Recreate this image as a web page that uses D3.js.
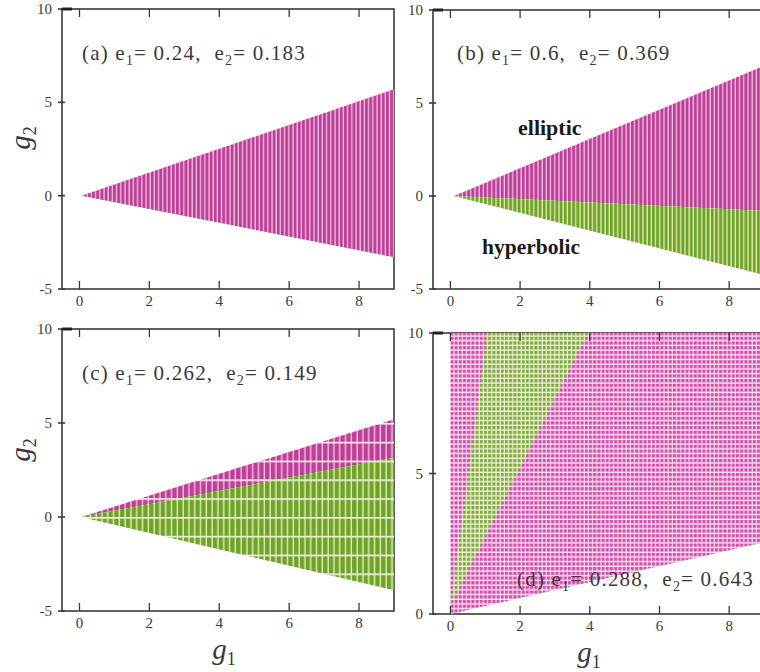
<!DOCTYPE html>
<html>
<head>
<meta charset="utf-8">
<script src="https://cdn.jsdelivr.net/npm/d3@7"></script>
<style>
  body { margin: 0; background: #fff; }
  text { font-family: "Liberation Serif", "DejaVu Serif", serif; fill: #3a3a3a; }
</style>
</head>
<body>
<svg width="760" height="672"></svg>
<script>
// tick values
var xTicks = [0, 2, 4, 6, 8];
var yTicksFull = [-5, 0, 5, 10];
var yTicksD = [0, 5, 10];

// region outlines, [g1, g2]
var ellipticA = [[0.05, 0], [9, 5.7], [9, -3.3]];
var ellipticB = [[0.1, 0], [9, 7.0], [9, -0.8]];
var hyperbolicB = [[0.1, 0], [9, -0.8], [9, -4.25]];
var ellipticC = [[0.05, 0], [9, 5.2], [9, 3.15]];
var hyperbolicC = [[0.05, 0], [9, 3.15], [9, -3.9]];
var ellipticD = [[0, 0], [0, 10], [9, 10], [9, 2.55]];
var hyperbolicD = [[0, 0.3], [1.05, 10], [3.95, 10]];

var panelNames = ["a", "b", "c", "d"];
var e1 = ["0.24", "0.6", "0.262", "0.288"];
var e2 = ["0.183", "0.369", "0.149", "0.643"];

var svg = d3.select("svg");
var defs = svg.append("defs");

// panel boxes
var layout = [
  { x0: 62, x1: 394, y0: 289, y1: 9, ymin: -5, style: "v",
    regions: [{ pts: ellipticA, c: "m" }], lab: [82, 60] },
  { x0: 433, x1: 764, y0: 289, y1: 10, ymin: -5, style: "v",
    regions: [{ pts: ellipticB, c: "m" }, { pts: hyperbolicB, c: "g" }], lab: [457, 60] },
  { x0: 62, x1: 394, y0: 611, y1: 329, ymin: -5, style: "h",
    regions: [{ pts: ellipticC, c: "m" }, { pts: hyperbolicC, c: "g" }], lab: [82, 380] },
  { x0: 433, x1: 764, y0: 614, y1: 333, ymin: 0, style: "grid",
    regions: [{ pts: ellipticD, c: "m" }, { pts: hyperbolicD, c: "g" }], lab: [517, 586] }
];

var colors = {
  m: { dark: "#bd3f96", light: "#efc2e6", grid: "#d650ad", gridLight: "#f4c8ea" },
  g: { dark: "#6fa32c", light: "#e2f0ae", grid: "#7fae3e", gridLight: "#e8f4b8" }
};

function makePattern(id, c, style, x, y, unit) {
  var p = defs.append("pattern").attr("id", id)
    .attr("patternUnits", "userSpaceOnUse").attr("x", x).attr("y", y);
  if (style == "v") {
    p.attr("width", 4.2).attr("height", 4);
    p.append("rect").attr("width", 4.2).attr("height", 4).attr("fill", c.dark);
    p.append("rect").attr("x", 2.9).attr("width", 1.3).attr("height", 4).attr("fill", c.light);
  } else if (style == "h") {
    p.attr("width", 5.8).attr("height", unit);
    p.append("rect").attr("width", 5.8).attr("height", unit).attr("fill", c.dark);
    p.append("rect").attr("x", 4.4).attr("width", 1.4).attr("height", unit).attr("fill", c.light);
    p.append("rect").attr("y", 0).attr("width", 5.8).attr("height", 1.6).attr("fill", "#f6f2f0");
  } else {
    p.attr("width", 4.2).attr("height", 4.7);
    p.append("rect").attr("width", 4.2).attr("height", 4.7).attr("fill", c.grid);
    p.append("rect").attr("x", 3).attr("width", 1.2).attr("height", 4.7).attr("fill", c.gridLight);
    p.append("rect").attr("y", 3.4).attr("width", 4.2).attr("height", 1.3).attr("fill", "#fbeef8");
  }
}

layout.forEach(function (L, i) {
  var x = d3.scaleLinear().domain([-0.5, 9]).range([L.x0, L.x1]);
  var y = d3.scaleLinear().domain([L.ymin, 10]).range([L.y0, L.y1]);
  var g = svg.append("g");
  var line = d3.line().x(function (d) { return x(d[0]); }).y(function (d) { return y(d[1]); });

  // frame
  g.append("rect")
    .attr("x", L.x0).attr("y", L.y1)
    .attr("width", L.x1 - L.x0).attr("height", L.y0 - L.y1)
    .attr("fill", "none").attr("stroke", "#3a3a3a").attr("stroke-width", 1.6);

  // regions
  L.regions.forEach(function (r) {
    var id = "pat" + i + r.c;
    makePattern(id, colors[r.c], L.style, x(0), y(0), y(0) - y(1));
    g.append("path")
      .attr("d", line(r.pts) + "Z")
      .attr("fill", "url(#" + id + ")");
  });

  // ticks
  var yt = L.ymin == 0 ? yTicksD : yTicksFull;
  g.selectAll(".xb").data(xTicks).enter().append("line")
    .attr("x1", x).attr("x2", x).attr("y1", L.y0).attr("y2", L.y0 - 8)
    .attr("stroke", "#3a3a3a").attr("stroke-width", 1.3);
  g.selectAll(".xt").data(xTicks).enter().append("line")
    .attr("x1", x).attr("x2", x).attr("y1", L.y1).attr("y2", L.y1 + 8)
    .attr("stroke", "#3a3a3a").attr("stroke-width", 1.3);
  g.selectAll(".yl").data(yt).enter().append("line")
    .attr("x1", L.x0 - 4).attr("x2", L.x0 + 3).attr("y1", y).attr("y2", y)
    .attr("stroke", "#3a3a3a").attr("stroke-width", 1.6);
  g.append("line")
    .attr("x1", L.x0).attr("x2", L.x0 + 10).attr("y1", y(10)).attr("y2", y(10))
    .attr("stroke", "#222").attr("stroke-width", 3);

  g.selectAll(".xlab").data(xTicks).enter().append("text")
    .attr("x", x).attr("y", L.y0 + 17)
    .attr("text-anchor", "middle").attr("font-size", 15)
    .text(function (d) { return d; });
  g.selectAll(".ylab").data(yt).enter().append("text")
    .attr("x", L.x0 - 10).attr("y", function (d) { return y(d) + 5; })
    .attr("text-anchor", "end").attr("font-size", 15)
    .text(function (d) { return d; });

  // panel label
  var t = g.append("text").attr("x", L.lab[0]).attr("y", L.lab[1]).attr("font-size", 21)
    .attr("letter-spacing", 1.2).attr("xml:space", "preserve");
  t.append("tspan").text("(" + panelNames[i] + ") e");
  t.append("tspan").attr("font-size", 14).attr("dy", 5).text("1");
  t.append("tspan").attr("dy", -5).text("= " + e1[i] + ",\u00a0\u00a0e");
  t.append("tspan").attr("font-size", 14).attr("dy", 5).text("2");
  t.append("tspan").attr("dy", -5).text("= " + e2[i]);
});

// region names in (b)
svg.append("text").attr("x", 518).attr("y", 135).attr("font-size", 22)
  .attr("font-weight", "bold").style("fill", "#1a1a1a").text("elliptic");
svg.append("text").attr("x", 482).attr("y", 254).attr("font-size", 21.5)
  .attr("font-weight", "bold").style("fill", "#1a1a1a").text("hyperbolic");

// axis titles
function axisTitle(xp, yp, sub, rot) {
  var t = svg.append("text").attr("font-size", 29).attr("font-style", "italic")
    .attr("text-anchor", "middle")
    .attr("transform", "translate(" + xp + "," + yp + ")" + (rot ? " rotate(-90)" : ""));
  t.append("tspan").text("g");
  t.append("tspan").attr("font-size", 18).attr("font-style", "normal").attr("dy", 6).text(sub);
}
axisTitle(30, 138, "2", true);
axisTitle(30, 450, "2", true);
axisTitle(224, 659, "1", false);
axisTitle(589, 662, "1", false);
</script>
</body>
</html>
